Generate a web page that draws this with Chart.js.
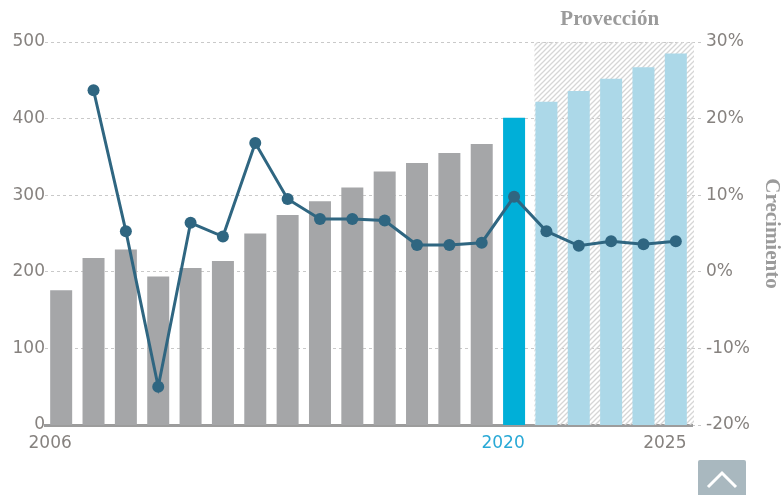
<!DOCTYPE html>
<html>
<head>
<meta charset="utf-8">
<script src="https://cdn.jsdelivr.net/npm/chart.js@4"></script>
<style>
  html, body { margin: 0; padding: 0; background: #fff; }
  #wrap { position: relative; width: 784px; height: 495px; overflow: hidden; }
  #upBtn { position: absolute; left: 698px; top: 460px; width: 48px; height: 40px;
           background: #a9b8bf; border-radius: 2px; }
</style>
</head>
<body>
<div id="wrap">
  <canvas id="chart" width="784" height="495"></canvas>
  <div id="upBtn">
    <svg width="48" height="35" viewBox="0 0 48 35">
      <polyline points="10,27 24,13 38,27" fill="none" stroke="#fff" stroke-width="3"/>
    </svg>
  </div>
</div>
<script>
//DATA
const years = ["2006", "2007", "2008", "2009", "2010", "2011", "2012", "2013", "2014", "2015",
  "2016", "2017", "2018", "2019", "2020", "2021", "2022", "2023", "2024", "2025"];
const shownYears = ["2006", "2020", "2025"];
const marketSize = [176, 218, 229, 194, 205, 214, 250, 274, 292, 310,
  331, 342, 355, 367, 401, 422, 436, 452, 467, 485];
const growth = [null, 23.7, 5.3, -15.0, 6.4, 4.6, 16.8, 9.5, 6.9, 6.9,
  6.7, 3.5, 3.5, 3.8, 9.8, 5.3, 3.4, 4.0, 3.6, 4.0];
const leftTicks = [0, 100, 200, 300, 400, 500];
const rightTicks = [-20, -10, 0, 10, 20, 30];
const projectionLabel = "Provección";
const rightTitle = "Crecimiento";
const currentYear = "2020";
const firstProjection = "2021";

const grey = "#86827f";
const tickFont = { family: "DejaVu Sans", size: 17 };

let barColors = years.map(y => {
  if (y === currentYear) return "#00afd8";
  if (+y >= +firstProjection) return "#acd8e8";
  return "#a5a6a8";
});

/*
  @desc: hatched background behind the projection years, plus its label
*/
const makeHatch = function (ctx) {
  const c = document.createElement("canvas");
  c.width = 5; c.height = 5;
  const p = c.getContext("2d");
  p.strokeStyle = "#d6d6d6";
  p.lineWidth = 1.3;
  p.beginPath();
  p.moveTo(0, 5); p.lineTo(5, 0);
  p.moveTo(-2.5, 2.5); p.lineTo(2.5, -2.5);
  p.moveTo(2.5, 7.5); p.lineTo(7.5, 2.5);
  p.stroke();
  return ctx.createPattern(c, "repeat");
};

const projectionPlugin = {
  id: "projection",
  beforeDatasetsDraw(chart) {
    const { ctx, chartArea } = chart;
    const idx = years.indexOf(firstProjection);
    const bar = chart.getDatasetMeta(1).data[idx];
    const left = bar.x - bar.width / 2;
    const top = chart.scales.y.getPixelForValue(leftTicks[leftTicks.length - 1]);
    ctx.save();
    ctx.fillStyle = makeHatch(ctx);
    ctx.fillRect(left - 1, top, chartArea.right + 3 - left, chartArea.bottom - top);
    ctx.restore();
  },
  afterDraw(chart) {
    const { ctx, chartArea } = chart;
    const idx = years.indexOf(firstProjection);
    const bar = chart.getDatasetMeta(1).data[idx];
    const left = bar.x - bar.width / 2;
    ctx.save();
    ctx.font = "bold 21px 'Liberation Serif'";
    ctx.fillStyle = "#9b9b9b";
    ctx.textAlign = "center";
    ctx.textBaseline = "middle";
    ctx.fillText(projectionLabel, (left + chartArea.right) / 2 - 4, 20);
    ctx.restore();
  }
};

let config = {
  data: {
    labels: years,
    datasets: [
      {
        type: "line",
        label: rightTitle,
        data: growth,
        yAxisID: "y1",
        borderColor: "#2f6681",
        backgroundColor: "#2f6681",
        borderWidth: 3,
        pointRadius: 6,
        pointBorderWidth: 0,
        order: 0,
      },
      {
        type: "bar",
        label: "Mercado",
        data: marketSize,
        yAxisID: "y",
        backgroundColor: barColors,
        barPercentage: 0.68,
        categoryPercentage: 1,
        order: 1,
      },
    ],
  },
  options: {
    responsive: false,
    animation: false,
    layout: { padding: { top: 42, left: 0, right: 0, bottom: 0 } },
    plugins: {
      legend: { display: false },
      tooltip: { enabled: false },
    },
    scales: {
      x: {
        grid: { display: false, drawTicks: false },
        border: { display: true, color: "#9c9c9c", width: 3 },
        ticks: {
          autoSkip: false,
          maxRotation: 0,
          labelOffset: -11,
          padding: 8,
          font: tickFont,
          color: c => (years[c.index] === currentYear ? "#29a9d6" : grey),
          callback: function (v, i) {
            return shownYears.includes(years[i]) ? years[i] : "";
          },
        },
        afterFit: s => { s.height = 70; },
      },
      y: {
        position: "left",
        min: leftTicks[0],
        max: leftTicks[leftTicks.length - 1],
        grid: { display: false, drawTicks: false },
        border: { display: false },
        ticks: { stepSize: 100, padding: 0, font: tickFont, color: grey },
        afterFit: s => { s.width = 45; },
      },
      y1: {
        position: "right",
        min: rightTicks[0],
        max: rightTicks[rightTicks.length - 1],
        grid: {
          color: "#c9c9c9",
          lineWidth: 1,
          tickLength: 10,
          tickColor: "#c9c9c9",
          tickBorderDash: [3, 3],
        },
        border: { display: false, dash: [3, 3] },
        ticks: {
          stepSize: 10,
          padding: 4,
          font: tickFont,
          color: grey,
          callback: v => v + "%",
        },
        title: {
          display: true,
          text: rightTitle,
          color: "#9b9b9b",
          font: { family: "Liberation Serif", size: 21, weight: "bold" },
          padding: { top: 0, bottom: 0 },
        },
        afterFit: s => { s.width = 92; },
      },
    },
  },
  plugins: [projectionPlugin],
};

const chart = new Chart(document.getElementById("chart"), config);
</script>
</body>
</html>
